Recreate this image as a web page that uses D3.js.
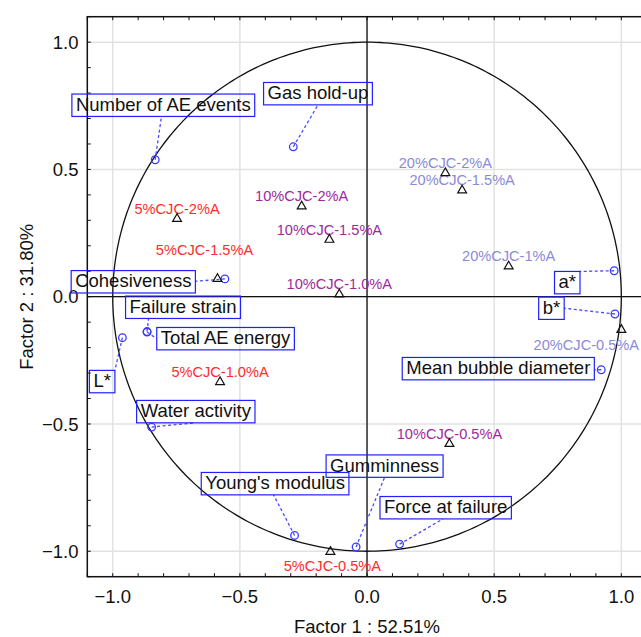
<!DOCTYPE html>
<html>
<head>
<meta charset="utf-8">
<script src="https://cdn.jsdelivr.net/npm/d3@7"></script>
<style>
  html, body { margin: 0; padding: 0; background: #fff; }
  svg { display: block; }
  text { font-family: "Liberation Sans", Arial, sans-serif; }
</style>
</head>
<body>
<svg id="chart" width="641" height="637"></svg>
<script>
// Variable loadings on the first two factors
const variableNames = ["Number of AE events", "Gas hold-up", "Cohesiveness", "Failure strain",
  "Total AE energy", "L*", "Water activity", "a*", "b*", "Mean bubble diameter",
  "Young's modulus", "Gumminness", "Force at failure"];
const variableF1 = [-0.833, -0.290, -0.559, -0.865, -0.865, -0.962, -0.847, 0.972, 0.975, 0.921, -0.285, -0.043, 0.128];
const variableF2 = [0.538, 0.589, 0.070, -0.137, -0.139, -0.161, -0.512, 0.102, -0.068, -0.287, -0.938, -0.983, -0.972];

// Sample scores (projected cases)
const sampleNames = ["5%CJC-2%A", "5%CJC-1.5%A", "5%CJC-1.0%A", "5%CJC-0.5%A",
  "10%CJC-2%A", "10%CJC-1.5%A", "10%CJC-1.0%A", "10%CJC-0.5%A",
  "20%CJC-2%A", "20%CJC-1.5%A", "20%CJC-1%A", "20%CJC-0.5%A"];
const sampleGroups = ["5%", "5%", "5%", "5%", "10%", "10%", "10%", "10%", "20%", "20%", "20%", "20%"];
const sampleF1 = [-0.747, -0.588, -0.578, -0.144, -0.257, -0.148, -0.109, 0.324, 0.308, 0.374, 0.557, 1.000];
const sampleF2 = [0.306, 0.070, -0.335, -1.002, 0.355, 0.224, 0.009, -0.578, 0.486, 0.418, 0.119, -0.130];

// Axis ticks
const xTickValues = [-1.0, -0.5, 0.0, 0.5, 1.0];
const xTickLabels = ["\u22121.0", "\u22120.5", "0.0", "0.5", "1.0"];
const yTickValues = [1.0, 0.5, 0.0, -0.5, -1.0];
const yTickLabels = ["1.0", "0.5", "0.0", "\u22120.5", "\u22121.0"];
const xTitle = "Factor 1 : 52.51%";
const yTitle = "Factor 2 : 31.80%";

// Label placement: box offset from the marker (px) and where the leader meets the box (fraction)
const variableLabelLayout = [
  [-83.3, -65.7, 0.49, 1], [-29.7, -64.3, 0.5, 1], [-153.7, -8.3, 1, 0.48], [-21.5, -35.5, 0.2, 1],
  [9.7, -4.6, 0, 0.5], [-33, 32.7, 1, 0], [-15, -26.6, 0.49, 1], [-59.7, 0.7, 1, 0],
  [-76.3, -17, 1, 0.5], [-199, -12.3, 1, 0.55], [-93.3, -63, 0.49, 1], [-30, -92, 0.5, 1],
  [-19.6, -47.6, 0.48, 1]
];
const sampleLabelLayout = [
  [0, -5], [-13, -24], [0, -5], [2, 19], [0, -5], [0, -5], [0, -5], [0, -5],
  [0, -5], [0, -5], [0, -5], [-35, 20]
];
const groupColor = { "5%": "#ff2b2b", "10%": "#a0289a", "20%": "#8a8ad6" };

const svg = d3.select("#chart");
const plotLeft = 87.3, plotTop = 16.7, plotBottom = 576.7;
const x = d3.scaleLinear().domain([-1.1, 1.1]).range([plotLeft, plotLeft + 2.2 * 254.3]);
const y = d3.scaleLinear().domain([-1.1, 1.1]).range([plotBottom, plotTop]);
const plotRight = x(1.1);

// Grid at the labelled ticks
const grid = svg.append("g");
grid.selectAll("line.gx").data(xTickValues).join("line")
  .attr("x1", d => x(d)).attr("x2", d => x(d)).attr("y1", plotTop).attr("y2", plotBottom)
  .attr("stroke", "#e2e2e2").attr("stroke-width", 1.5);
grid.selectAll("line.gy").data(yTickValues).join("line")
  .attr("y1", d => y(d)).attr("y2", d => y(d)).attr("x1", plotLeft).attr("x2", plotRight)
  .attr("stroke", "#e2e2e2").attr("stroke-width", 1.5);

// Unit correlation circle
const angles = d3.range(0, 361, 1).map(a => a * Math.PI / 180);
svg.append("path")
  .attr("d", d3.line().x(a => x(Math.cos(a))).y(a => y(Math.sin(a)))(angles))
  .attr("fill", "none").attr("stroke", "#111").attr("stroke-width", 1.3);

// Zero lines
svg.append("line").attr("x1", x(0)).attr("x2", x(0)).attr("y1", plotTop).attr("y2", plotBottom)
  .attr("stroke", "#111").attr("stroke-width", 1.3);
svg.append("line").attr("x1", plotLeft).attr("x2", plotRight).attr("y1", y(0)).attr("y2", y(0))
  .attr("stroke", "#111").attr("stroke-width", 1.3);

// Frame
svg.append("rect").attr("x", plotLeft).attr("y", plotTop).attr("width", plotRight - plotLeft).attr("height", plotBottom - plotTop)
  .attr("fill", "none").attr("stroke", "#111").attr("stroke-width", 1.5);

// Minor ticks (inward), every 0.1
const minor = d3.range(-11, 12).map(v => v / 10);
const ticks = svg.append("g").attr("stroke", "#111").attr("stroke-width", 1);
ticks.selectAll("line.bt").data(minor).join("line")
  .attr("x1", d => x(d)).attr("x2", d => x(d)).attr("y1", plotBottom).attr("y2", plotBottom - 3.5);
ticks.selectAll("line.tt").data(minor).join("line")
  .attr("x1", d => x(d)).attr("x2", d => x(d)).attr("y1", plotTop).attr("y2", plotTop + 3.5);
ticks.selectAll("line.lt").data(minor).join("line")
  .attr("y1", d => y(d)).attr("y2", d => y(d)).attr("x1", plotLeft).attr("x2", plotLeft + 3.5);

// Tick labels
svg.append("g").selectAll("text").data(xTickValues).join("text")
  .attr("x", d => x(d)).attr("y", 602.7).attr("text-anchor", "middle")
  .attr("font-size", 18.5).attr("fill", "#111").text((d, i) => xTickLabels[i]);
svg.append("g").selectAll("text").data(yTickValues).join("text")
  .attr("x", 78.5).attr("y", d => y(d)).attr("dy", "0.36em").attr("text-anchor", "end")
  .attr("font-size", 18.5).attr("fill", "#111").text((d, i) => yTickLabels[i]);

// Axis titles
svg.append("text").attr("x", x(0)).attr("y", 633.3).attr("text-anchor", "middle")
  .attr("font-size", 18.5).attr("fill", "#111").text(xTitle);
svg.append("text").attr("transform", `translate(33,${(plotTop + plotBottom) / 2}) rotate(-90)`)
  .attr("text-anchor", "middle").attr("font-size", 18.5).attr("fill", "#111").text(yTitle);

// Variables: circle markers, leader lines and boxed names
const vars = variableNames.map((n, i) => ({ name: n, px: x(variableF1[i]), py: y(variableF2[i]), lay: variableLabelLayout[i] }));
const vg = svg.append("g");
const boxH = 22.4, pad = 4;
vars.forEach(v => {
  const t = vg.append("text").attr("font-size", 18.5).attr("fill", "#111").text(v.name);
  const w = t.node().getComputedTextLength() + 2 * pad;
  const bx = v.px + v.lay[0], by = v.py + v.lay[1];
  t.attr("x", bx + pad).attr("y", by + 16.7);
  const lx = bx + v.lay[2] * w, ly = by + v.lay[3] * boxH;
  vg.insert("line", "text").attr("x1", v.px).attr("y1", v.py).attr("x2", lx).attr("y2", ly)
    .attr("stroke", "#4a4aff").attr("stroke-width", 1.3).attr("stroke-dasharray", "3,2.5");
  vg.append("rect").attr("x", bx).attr("y", by).attr("width", w).attr("height", boxH)
    .attr("fill", "none").attr("stroke", "#2020ff").attr("stroke-width", 1.2);
});
vg.selectAll("circle").data(vars).join("circle")
  .attr("cx", d => d.px).attr("cy", d => d.py).attr("r", 3.8)
  .attr("fill", "none").attr("stroke", "#3a3aff").attr("stroke-width", 1.3);

// Samples: triangle markers with coloured names
const samples = sampleNames.map((n, i) => ({ name: n, g: sampleGroups[i], px: x(sampleF1[i]), py: y(sampleF2[i]), lay: sampleLabelLayout[i] }));
const sg = svg.append("g");
sg.selectAll("text").data(samples).join("text")
  .attr("x", d => d.px + d.lay[0]).attr("y", d => d.py + d.lay[1])
  .attr("text-anchor", "middle").attr("font-size", 14.6)
  .attr("fill", d => groupColor[d.g]).text(d => d.name);
sg.selectAll("path").data(samples).join("path")
  .attr("transform", d => `translate(${d.px},${d.py})`)
  .attr("d", d3.symbol(d3.symbolTriangle, 34)())
  .attr("fill", "none").attr("stroke", "#111").attr("stroke-width", 1.2);
</script>
</body>
</html>
